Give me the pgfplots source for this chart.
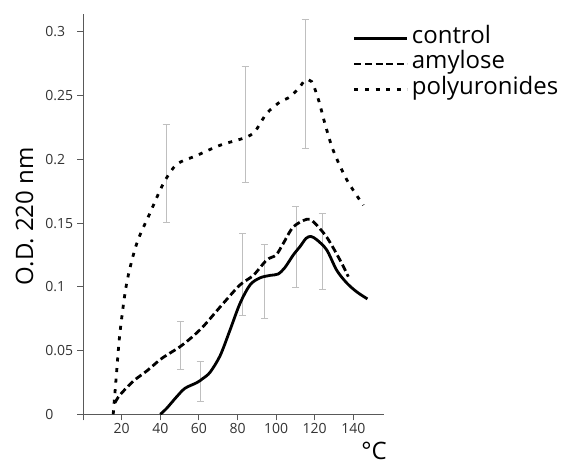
\documentclass[border=0pt]{standalone}
\usepackage{fontspec}
\setmainfont{Open Sans}
\usepackage{pgfplots}
\pgfplotsset{compat=1.18}
\begin{document}
\begin{tikzpicture}
\begin{axis}[
  scale only axis, width=301.1bp, height=400.3bp,
  xmin=0, xmax=156, ymin=0, ymax=0.314,
  axis x line*=bottom, axis y line*=left,
  axis line style={black!65, line width=1.1bp},
  tick align=outside, major tick length=6bp,
  tick style={black!65, line width=1.1bp},
  xtick={0,20,40,60,80,100,120,140},
  xticklabels={,20,40,60,80,100,120,140},
  ytick={0,0.05,0.1,0.15,0.2,0.25,0.3},
  yticklabels={0,0.05,0.1,0.15,0.2,0.25,0.3},
  tick label style={font=\fontsize{14bp}{16bp}\selectfont, text=black!80},
  yticklabel style={anchor=west, inner xsep=0pt, xshift=-32bp},
  ylabel={O.D. 220 nm},
  every axis y label/.style={at={(axis description cs:-0.166,0.495)}, rotate=90, anchor=base, font=\fontsize{24bp}{28bp}\selectfont},
  xlabel={°C},
  every axis x label/.style={at={(axis description cs:0.966,-0.112)}, anchor=base, font=\fontsize{24bp}{28bp}\selectfont},
  legend style={draw=none, fill=none, at={(axis description cs:0.886,0.976)}, anchor=north west,
    font=\fontsize{24bp}{28bp}\selectfont, column sep=3bp, row sep=0pt,
    nodes={inner sep=0pt, text height=17.5bp, text depth=8bp}},
  legend cell align=left,
  legend image code/.code={\draw[#1, line width=2.8bp] (0bp,0bp) -- (53bp,0bp);},
]
\addplot[draw=none, mark=none, forget plot,
  error bars/.cd, y dir=both, y explicit, error mark=|,
  error bar style={draw=black!25, line width=0.9bp},
  error mark options={draw=black!25, line width=0.9bp, mark size=3.5bp}]
  table[x=x, y=y, y error=e] {
x y e
43 0.18915 0.03845
50.6 0.054 0.0187
60.6 0.02585 0.01545
82.7 0.10945 0.03205
94.2 0.10435 0.02905
110.3 0.1312 0.0318
123.9 0.12795 0.02985
83.9 0.2273 0.0455
115 0.25885 0.05065
};
\addplot[black, line width=2.8bp, smooth, tension=0.5] coordinates {
(40,0) (43.3,0.0047) (48.5,0.0138) (52.8,0.0204) (58.9,0.0248) (62,0.028) (65.8,0.033) (71,0.046) (76.1,0.066) (81.3,0.087) (86.5,0.1015) (91.6,0.107) (97,0.109) (101,0.11) (104.5,0.115) (108.9,0.125) (112.4,0.1316) (115.5,0.138) (118,0.1395) (121,0.137) (126.2,0.129) (131.4,0.113) (136.6,0.103) (141.8,0.096) (147.3,0.0905)
};
\addlegendentry{control}
\addplot[black, line width=2.8bp, dash pattern=on 7bp off 3.6bp, smooth, tension=0.5] coordinates {
(16.5,0.009) (19,0.015) (26,0.026) (33,0.034) (40,0.043) (45,0.048) (50.2,0.053) (56,0.060) (62.3,0.069) (72.6,0.087) (81.3,0.1015) (88.2,0.109) (95.1,0.121) (100,0.125) (103.7,0.134) (108.9,0.147) (115.9,0.153) (119.3,0.151) (126.2,0.139) (133.1,0.121) (137.4,0.108)
};
\addlegendentry{amylose}
\addplot[black, line width=2.8bp, dash pattern=on 4bp off 6.6bp, smooth, tension=0.5] coordinates {
(15.6,0) (17.2,0.03) (19.1,0.064) (22.6,0.103) (27.8,0.134) (34.7,0.158) (41.6,0.181) (48.5,0.196) (58.9,0.203) (70.9,0.211) (83.9,0.217) (89.1,0.222) (95.1,0.236) (102,0.245) (107.2,0.249) (112.4,0.257) (115,0.262) (118.4,0.261) (121.9,0.247) (125.3,0.228) (129.6,0.207) (136.6,0.184) (145.2,0.164)
};
\addlegendentry{polyuronides}
\end{axis}
\pgfresetboundingbox
\useasboundingbox (-83.1bp,-49.7bp) rectangle (480.9bp,414.3bp);
\end{tikzpicture}
\end{document}
